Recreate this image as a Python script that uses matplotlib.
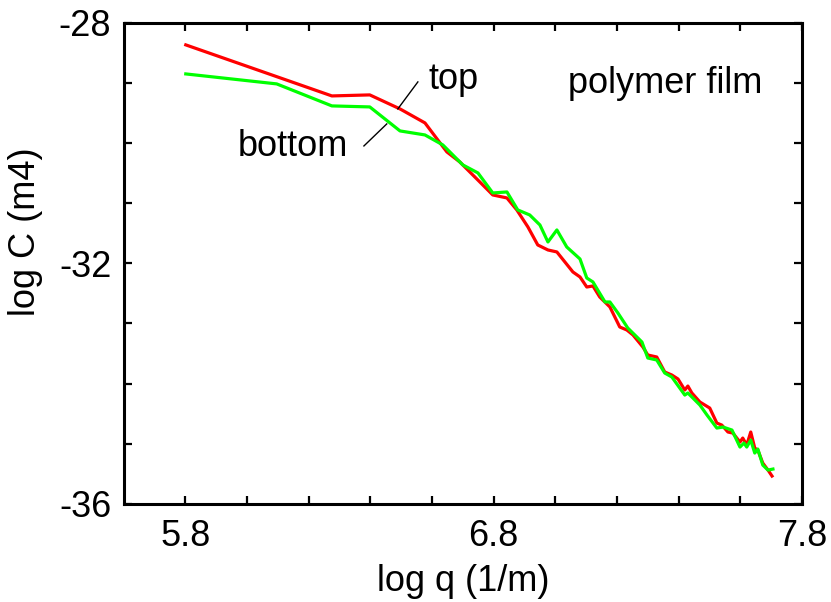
import matplotlib.pyplot as plt
import numpy as np

plt.rcParams['font.family'] = ['Liberation Sans', 'DejaVu Sans']

# log q (1/m), log C (m4) for the two surfaces
q_top = [5.801, 6.275, 6.398, 6.496, 6.577, 6.648, 6.690, 6.755, 6.797, 6.843,
         6.875, 6.911, 6.943, 6.976, 7.005, 7.057, 7.080, 7.102, 7.122, 7.144,
         7.177, 7.209, 7.232, 7.252, 7.284, 7.300, 7.329, 7.355, 7.378, 7.398,
         7.420, 7.430, 7.443, 7.469, 7.485, 7.501, 7.524, 7.540, 7.560, 7.576,
         7.599, 7.608, 7.621, 7.634, 7.647, 7.657, 7.673, 7.690, 7.703]
c_top = [-28.366, -29.215, -29.198, -29.431, -29.664, -30.146, -30.313, -30.646,
         -30.862, -30.912, -31.111, -31.394, -31.694, -31.777, -31.810, -32.143,
         -32.226, -32.393, -32.376, -32.559, -32.725, -33.058, -33.108, -33.191,
         -33.391, -33.524, -33.557, -33.807, -33.857, -33.923, -34.106, -34.040,
         -34.156, -34.306, -34.356, -34.406, -34.656, -34.689, -34.805, -34.822,
         -34.972, -34.905, -35.022, -34.805, -35.072, -35.105, -35.321, -35.438,
         -35.537]

q_bot = [5.801, 6.096, 6.275, 6.398, 6.496, 6.577, 6.635, 6.700, 6.749, 6.797,
         6.843, 6.878, 6.917, 6.950, 6.976, 7.005, 7.037, 7.080, 7.102, 7.122,
         7.161, 7.177, 7.203, 7.235, 7.281, 7.300, 7.329, 7.355, 7.378, 7.420,
         7.430, 7.469, 7.492, 7.524, 7.544, 7.573, 7.599, 7.612, 7.621, 7.634,
         7.647, 7.657, 7.673, 7.690, 7.706]
c_bot = [-28.849, -29.015, -29.381, -29.398, -29.797, -29.864, -30.030, -30.363,
         -30.496, -30.829, -30.812, -31.111, -31.195, -31.361, -31.644, -31.444,
         -31.727, -31.927, -32.243, -32.309, -32.642, -32.642, -32.825, -33.075,
         -33.308, -33.574, -33.607, -33.824, -33.890, -34.190, -34.156, -34.356,
         -34.522, -34.739, -34.722, -34.772, -35.055, -34.988, -35.055, -34.938,
         -35.155, -35.088, -35.354, -35.438, -35.421]

fig = plt.figure(figsize=(8.31, 6.02), dpi=100)
ax = fig.add_axes([0.149, 0.163, 0.816, 0.799])

ax.plot(q_top, c_top, color='#ff0000', lw=2.3)
ax.plot(q_bot, c_bot, color='#00ff00', lw=2.3)

# pointer lines for the labels
ax.plot([6.554, 6.489], [-28.982, -29.431], color='black', lw=1)
ax.plot([6.453, 6.379], [-29.681, -30.047], color='black', lw=1)

fs = 26
ax.text(6.671, -28.95, 'top', fontsize=fs, ha='center', va='center')
ax.text(6.148, -30.06, 'bottom', fontsize=fs, ha='center', va='center')
ax.text(7.355, -29.0, 'polymer film', fontsize=fs, ha='center', va='center')

ax.set_xlim(5.6, 7.8)
ax.set_ylim(-36, -28)
ax.set_xticks([5.8, 6.8, 7.8])
ax.set_xticks(np.arange(5.8, 7.7, 0.2), minor=True)
ax.set_yticks([-36, -32, -28])
ax.set_yticks(np.arange(-35, -28), minor=True)
ax.set_xticklabels(['5.8', '6.8', '7.8'])
ax.set_yticklabels(['-36', '-32', '-28'])
ax.tick_params(which='both', direction='in', top=True, right=True,
               length=6, width=1.6, labelsize=fs)
ax.tick_params(axis='x', pad=11)
ax.tick_params(axis='y', pad=9)
for s in ax.spines.values():
    s.set_linewidth(2.2)

ax.set_xlabel('log q (1/m)', fontsize=fs)
ax.xaxis.set_label_coords(0.5, -0.125)
ax.set_ylabel('log C (m4)', fontsize=fs)
ax.yaxis.set_label_coords(-0.119, 0.565)

fig.savefig('out.png', dpi=100)
